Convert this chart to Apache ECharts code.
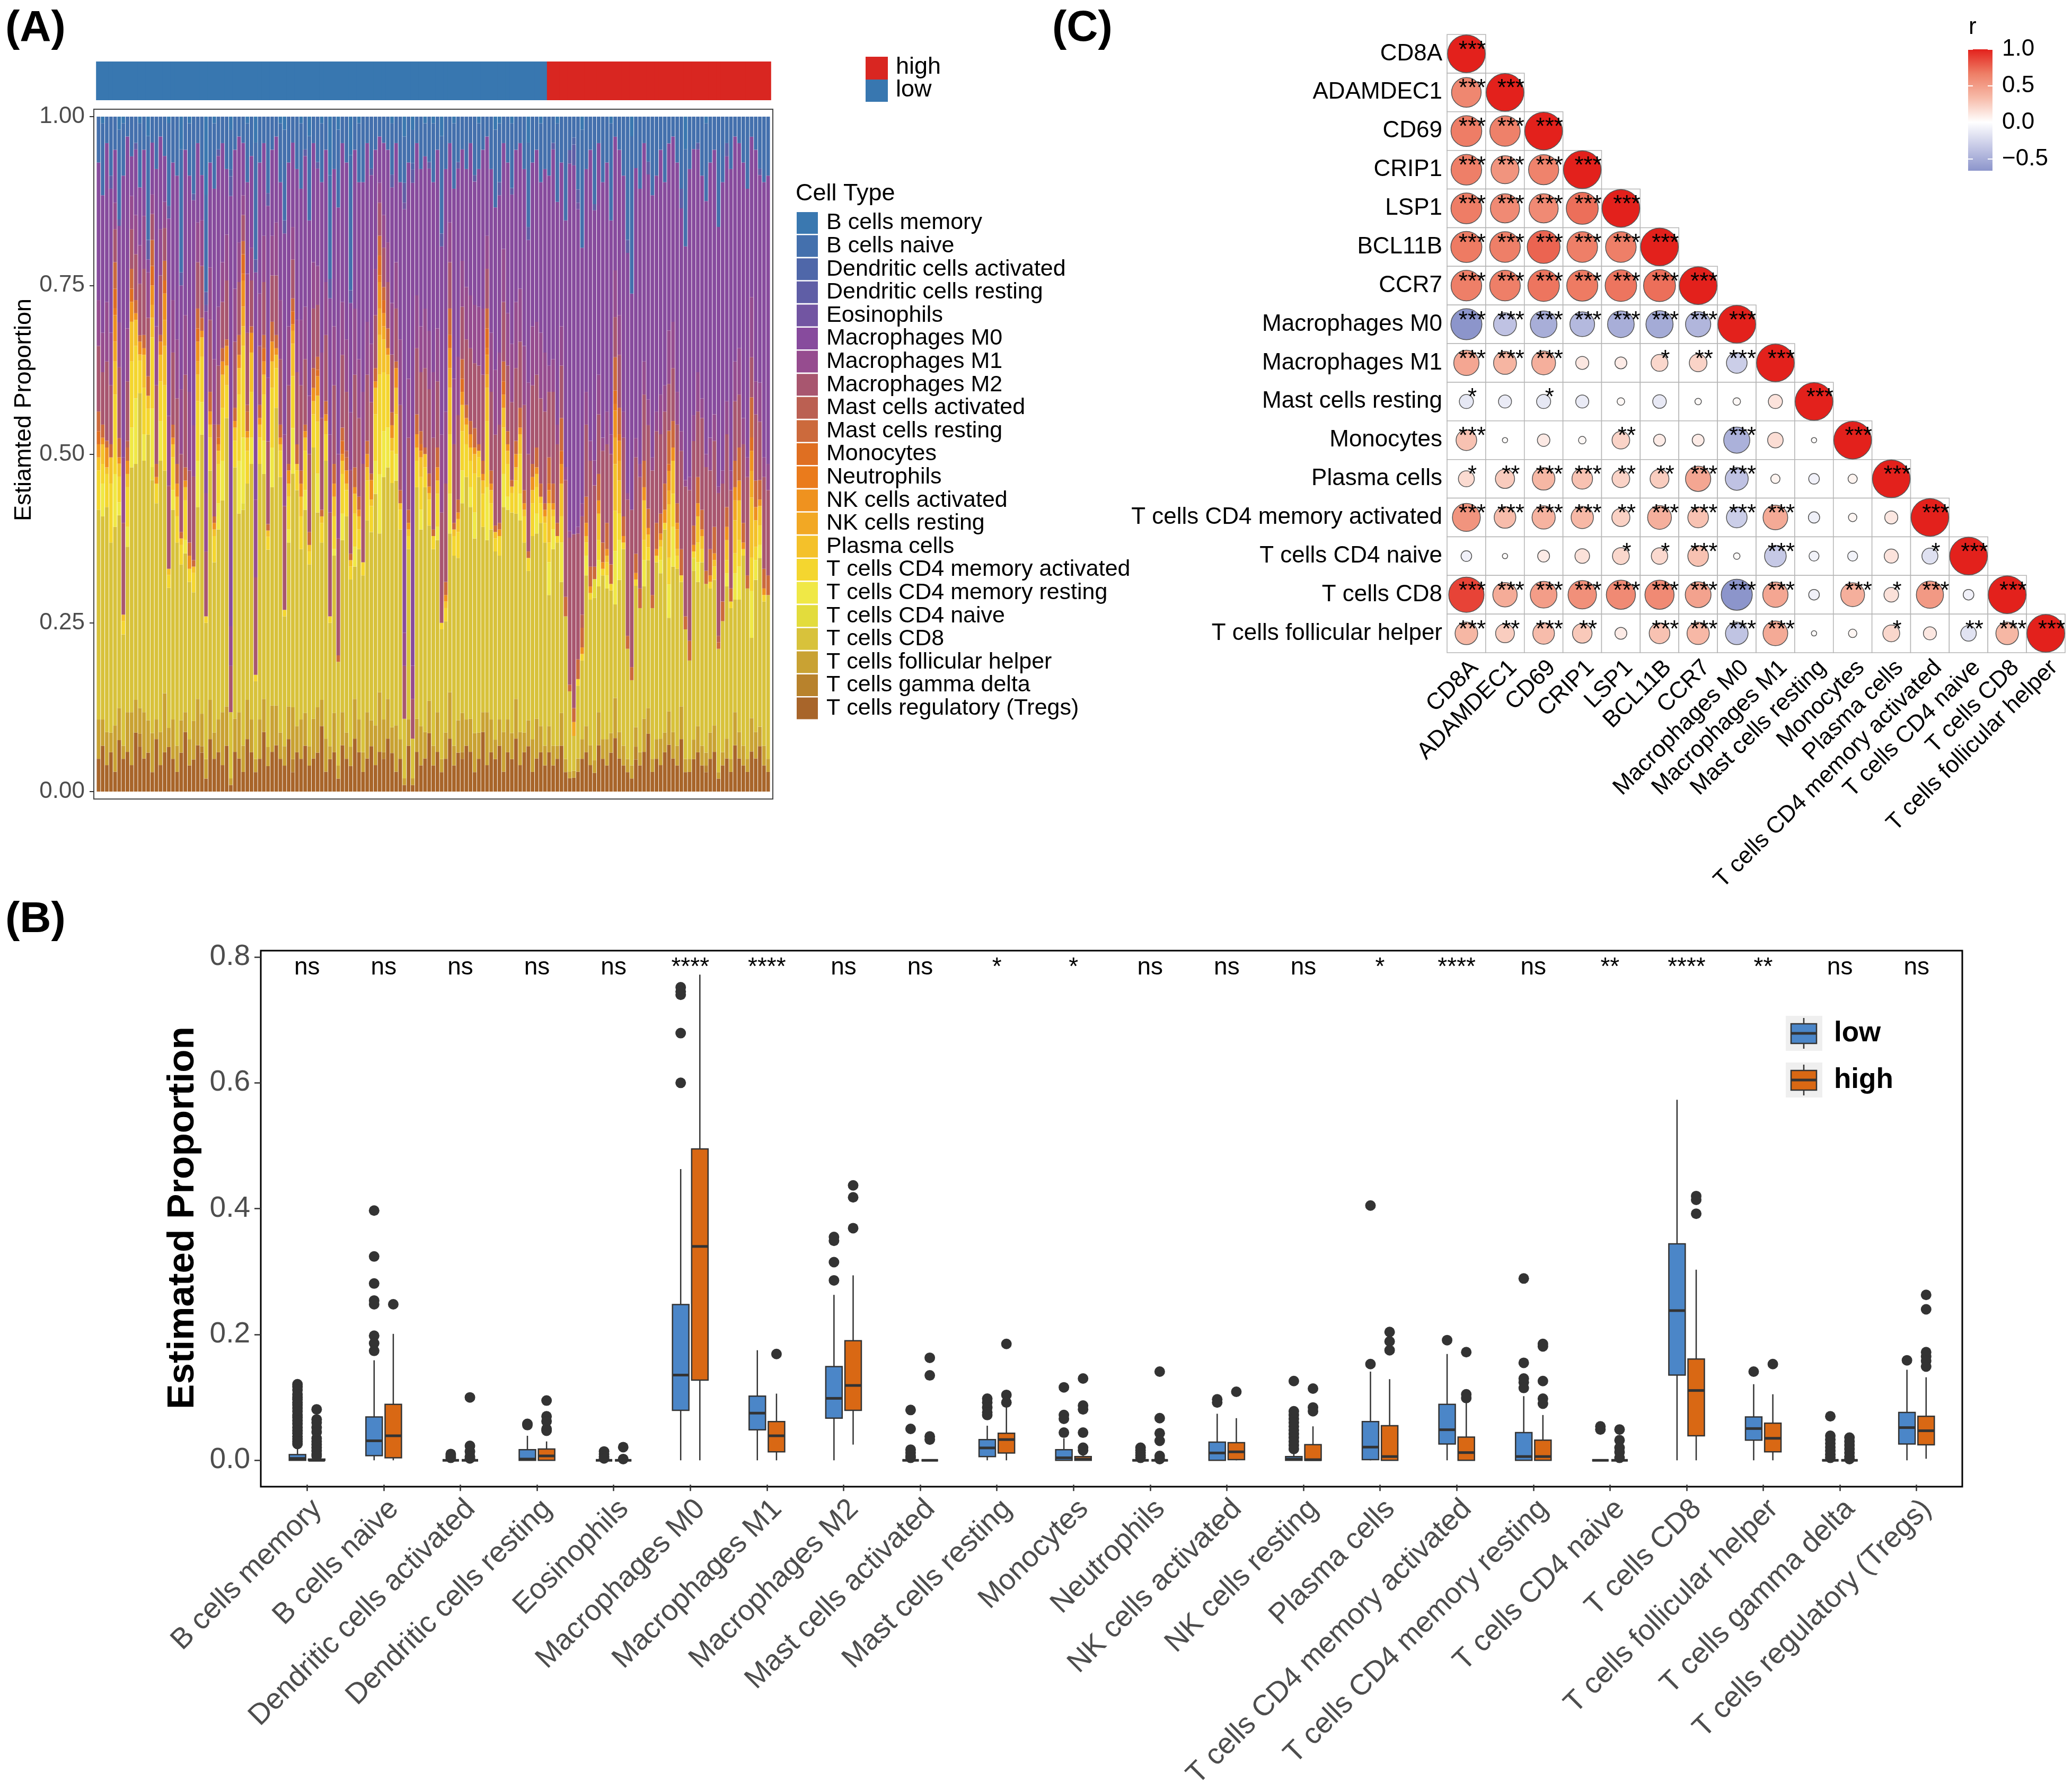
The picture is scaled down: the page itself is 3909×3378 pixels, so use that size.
<!DOCTYPE html>
<html><head><meta charset="utf-8">
<script src="https://cdn.jsdelivr.net/npm/echarts@6/dist/echarts.min.js"></script>
<style>html,body{margin:0;padding:0;background:#fff}#c{width:3909px;height:3378px}</style>
</head><body><div id="c"></div>
<script>
const FF = '"Liberation Sans", Arial, Helvetica, sans-serif';
const nums = s => s.trim().split(/\s+/).map(Number);

// ---------------- Panel A data (percent per sample; low group first, then high) ----------------
const lowCount = 109, highCount = 54;
const N = lowCount + highCount;
const full = s => { const a = nums(s); while (a.length < N) a.push(0); return a.slice(0, N); };
const sparse = o => { const a = new Array(N).fill(0); for (const k in o) a[+k] = o[k]; return a; };

const tregs = full(`5 7 4 6 3 8 5 6 4 9 7 5 6 3 8 4 6 7 5 3 6 9 4 5 7 6 2 8 5 6 4 7 1 6 5 3 8 6 3 5 9 4 6 7 5 4 8 3 6 5 7 4 5 6 10 3 5 6 2 7 5 4 8 6 3 5 7 4 6 5 8 6 3 5 1 7 1 6 4 5 9 4 6 3 5 8 4 6 5 7 6 3 5 9 4 6 5 7 3 6 5 8 4 6 7 3 5 6 4
 6 4 5 7 3 2 2 3 5 6 4 3 7 5 4 6 8 5 4 3 2 5 4 6 9 3 5 4 6 7 5 4 8 3 3 5 6 4 3 5 6 2 4 5 3 7 5 4 3 6 5 7 4 3`);
const tfh = full(`6 4 5 3 7 5 2 6 8 5 4 7 5 6 3 5 9 3 6 4 5 3 4 6 7 5 3 6 4 5 8 6 1 5 7 4 6 5 2 6 5 3 7 6 4 3 5 8 4 6 5 3 6 7 4 5 2 6 2 5 4 3 6 5 3 7 4 6 9 5 6 4 7 3 1 4 1 5 6 4 5 3 6 2 4 7 3 5 6 4 5 6 4 3 8 5 3 4 6 5 4 6 5 3 4 5 6 4 3
 4 3 2 5 2 1 1 2 3 4 3 2 5 3 4 3 6 4 3 2 2 3 2 5 4 2 3 4 3 5 4 3 5 2 2 3 4 3 2 4 4 1 2 3 2 5 4 3 2 5 4 3 3 2`);
const cd8 = full(`32 31 34 29 30 30 17 25 37 36 49 38 44 39 33 41 34 22 32 31 24 24 24 20 29 43 21 35 26 29 32 44 10 38 30 36 33 39 12 39 34 31 33 45 39 20 25 36 36 26 31 28 41 30 24 42 19 24 16 26 33 26 20 26 27 29 29 35 24 37 35 38 37 32 9 26 6 35 30 37 27 30 26 20 17 24 29 25 32 37 32 30 39 28 26 29 29 25 34 32 34 28 32 29 23 31 28 31 31
 20 30 31 20 22 12 5 11 12 23 22 26 19 25 23 22 14 23 30 17 13 22 22 20 23 23 27 25 31 14 25 27 19 20 15 26 22 28 26 22 22 19 20 23 23 17 20 29 26 12 23 26 22 25`);
const cd4Act = full(`6 3 5 9 12 4 2 6 10 8 5 7 4 11 3 6 13 2 5 4 3 6 2 3 9 7 1 5 4 6 8 5 0 4 10 14 5 7 1 4 7 2 9 6 4 1 5 8 3 5 6 2 5 8 3 4 1 5 0 6 4 2 5 3 2 6 4 7 15 9 8 5 6 3 0 2 0 4 5 3 4 2 5 1 2 9 3 4 6 5 4 6 3 5 10 4 2 3 7 5 3 5 6 4 2 5 4 3 3
 3 2 1 4 0 0 0 1 1 2 1 0 3 1 2 1 6 4 1 0 0 1 0 3 2 0 1 2 1 4 5 2 1 0 0 1 3 2 0 1 2 0 0 2 1 3 4 1 0 5 2 3 1 0`);
const cd4Rest = full(`0 5 0 0 8 2 0 3 6 10 0 4 0 9 0 6 0 0 3 0 0 2 0 0 7 5 0 0 0 4 6 0 0 0 8 10 0 4 0 0 5 0 6 0 0 0 2 7 0 0 3 0 0 6 0 0 0 1 0 4 0 0 3 0 0 0 0 5 9 7 6 0 4 0 0 0 0 0 3 0 0 0 2 0 0 6 0 0 5 0 3 4 0 0 8 0 0 0 5 2 0 0 4 0 0 0 3 0 0
 5 3 0 6 0 0 0 0 0 3 0 0 4 0 2 0 8 6 0 0 0 0 0 4 0 0 0 2 0 5 6 0 0 0 0 0 3 0 0 0 0 0 0 2 0 4 5 0 0 7 3 2 0 0`);
const plasma = full(`2 3 1 4 5 2 1 2 6 4 1 5 2 3 0 4 6 1 2 3 1 2 0 1 4 3 0 2 1 2 5 3 0 2 4 3 2 6 0 2 3 1 4 2 1 0 2 5 1 3 2 1 2 4 1 2 0 3 0 2 1 1 3 2 0 2 1 4 6 5 3 2 4 1 0 1 0 2 3 2 1 0 2 0 1 7 1 2 4 3 2 3 1 2 5 2 1 0 3 2 1 2 3 1 0 2 2 1 1
 6 1 0 5 0 0 0 0 0 1 0 0 4 0 1 0 7 5 0 0 0 0 0 6 2 0 0 1 0 8 5 1 0 0 0 0 4 2 0 0 1 0 0 3 0 5 6 0 0 9 4 3 0 0`);
const nkActivated = full(`2 1 3 0 4 1 0 2 3 1 2 1 0 3 1 2 4 0 1 2 0 1 2 0 3 1 0 2 1 1 2 3 0 1 2 4 1 3 0 1 2 0 3 1 1 0 2 1 0 2 1 0 2 3 0 1 0 2 0 1 2 0 1 1 0 2 3 1 4 2 1 2 3 0 0 1 0 2 1 0 1 0 2 0 1 3 0 1 2 1 2 1 0 1 3 1 0 1 2 1 0 2 1 1 0 2 1 0 1
 2 1 0 3 0 0 0 0 1 2 1 0 2 1 1 0 4 3 1 0 0 1 0 2 1 0 1 1 2 3 2 1 0 0 0 1 2 1 0 1 1 0 0 2 0 2 3 1 0 3 2 1 1 0`);
const mastResting = full(`3 2 1 2 4 3 0 2 3 2 1 2 3 4 2 1 3 0 2 3 1 2 2 1 3 2 0 3 1 2 2 1 0 2 3 2 3 1 0 2 2 1 3 2 2 0 1 2 3 2 1 2 3 2 1 2 0 3 1 2 2 1 3 2 0 2 1 2 3 2 3 2 1 2 0 2 0 3 2 1 2 1 3 0 2 4 1 2 3 2 2 3 1 2 3 2 1 1 3 2 1 2 3 2 1 2 3 2 1
 4 3 2 5 3 1 2 3 3 4 3 2 4 3 4 3 5 4 3 2 2 3 3 4 3 2 4 3 4 5 4 3 4 2 3 3 4 3 2 4 4 1 3 3 2 4 5 3 2 6 4 3 3 3`);
const m2 = full(`10 8 12 9 5 11 14 9 6 7 8 10 9 4 12 9 5 13 11 10 12 14 11 13 7 8 10 11 14 9 7 9 7 10 8 4 11 7 15 9 8 13 7 9 10 16 12 6 11 13 10 12 9 8 14 10 16 12 18 11 9 13 14 12 15 10 11 8 5 6 7 9 8 13 8 11 6 10 9 12 13 14 10 17 15 7 12 13 8 10 11 10 12 13 6 12 14 15 9 10 12 11 10 13 15 12 11 13 14
 10 14 12 8 18 22 25 19 15 11 16 13 9 14 12 17 6 8 12 21 24 15 17 10 13 19 14 12 11 7 8 12 15 20 23 13 10 14 16 12 13 22 18 11 15 9 8 12 15 6 10 9 14 13`);
const m1 = full(`7 6 9 8 4 7 10 8 5 6 6 8 7 3 9 7 4 11 8 9 10 9 12 8 6 7 9 8 10 9 6 7 6 8 6 3 9 5 12 8 7 10 6 8 9 11 9 5 8 10 8 9 7 6 10 8 12 9 13 8 8 9 10 9 11 8 9 7 3 5 6 8 7 10 5 9 5 8 7 9 9 10 8 12 11 6 10 9 7 8 8 9 9 10 5 9 10 11 8 8 9 10 8 9 11 9 8 10 9
 4 5 3 6 2 1 0 1 2 5 3 4 6 2 5 3 7 6 4 1 0 3 2 5 4 2 3 6 4 8 7 5 3 1 2 4 6 3 2 5 4 1 2 5 3 6 7 4 3 9 5 6 3 4`);
const m0 = full(`21 21 24 22 8 15 43 29 6 10 9 10 2 8 24 14 7 31 21 25 16 25 33 35 12 7 28 16 26 23 18 10 65 21 16 8 14 14 35 20 14 27 13 13 18 31 25 13 23 20 23 27 18 15 26 20 21 24 38 24 27 17 24 27 32 27 26 18 7 11 14 18 18 24 64 33 73 23 24 23 25 29 27 29 37 12 29 29 17 18 23 19 21 24 15 25 25 24 16 23 23 23 22 27 22 25 26 23 28
 29 32 34 25 38 55 53 48 39 34 44 40 35 39 38 33 20 25 36 37 33 42 42 33 35 40 36 37 31 28 28 35 34 36 47 41 34 34 39 42 40 40 44 37 46 34 31 39 41 24 35 32 42 44`);
const bNaive = full(`7 11 4 9 5 14 8 3 6 4 10 5 16 4 8 3 6 13 7 9 19 5 8 12 4 9 15 7 10 5 4 8 6 5 3 4 9 6 18 7 4 12 5 3 9 14 7 4 8 10 5 13 4 7 9 5 16 8 12 4 7 21 5 9 10 4 8 5 3 4 5 8 4 10 7 7 5 4 8 5 7 9 5 15 8 4 10 7 5 8 4 9 7 5 3 8 12 9 4 7 10 5 4 8 13 7 5 9 8
 9 4 12 7 16 5 3 11 18 8 5 14 4 10 7 15 3 5 9 19 24 8 11 4 7 12 9 5 10 4 3 7 11 15 8 5 4 9 12 7 5 17 10 4 8 3 4 7 11 3 5 8 10 9`);
const bMemory = full(`0 1 0 0 0 2 1 0 0 0 1 0 3 0 0 0 0 1 0 0 5 0 1 0 0 0 12 0 1 0 0 0 2 0 0 0 1 0 4 0 0 0 0 0 1 2 0 0 0 1 0 3 0 0 1 0 9 0 2 0 0 6 0 1 0 0 0 0 0 0 0 1 0 0 3 0 2 0 0 1 0 1 0 3 0 0 1 0 0 0 0 0 1 0 0 0 2 1 0 0 1 0 0 0 4 0 0 1 0
 0 0 1 0 0 0 0 0 2 0 0 0 0 0 0 1 0 0 0 0 3 0 0 0 0 0 0 0 0 0 0 0 0 5 0 0 0 0 1 0 0 0 0 0 0 0 0 0 0 0 0 0 0 0`);
const dcResting = sparse({3:2,5:1,9:1,12:3,17:2,20:2,23:1,26:2,29:1,32:3,38:2,41:2,45:2,50:1,53:1,56:3,61:2,66:1,71:2,74:3,76:2,80:1,83:2,87:1,91:1,97:2,100:1,104:2,110:1,114:2,115:3,116:2,120:1,128:2,133:2,141:3,145:1,152:2,160:1});
const dcActivated = sparse({32:1,76:1,115:1});
const eosinophils = sparse({26:1,74:1,116:1});
const neutrophils = sparse({4:1,35:1,68:1,94:1,125:1});
const monocytes = sparse({0:2,4:3,8:2,13:3,16:2,24:2,29:1,35:3,40:2,47:2,53:1,59:2,68:3,69:2,78:1,85:2,88:2,94:3,98:2,109:1,112:2,125:2,126:1,138:1,158:2});
const mastActivated = sparse({7:1,36:1,60:1,117:2,150:1});
const nkResting = sparse({4:3,13:2,16:4,24:2,35:3,47:2,68:4,69:2,85:3,94:2,115:2,125:4,126:3,138:2,140:3,154:3,158:4});
const gammaDelta = sparse({10:2,25:1,47:2,69:1,88:1,130:2,147:1});
const cd4Naive = sparse({13:2,35:1,120:3,144:2});

const cellTypes = ['B cells memory','B cells naive','Dendritic cells activated','Dendritic cells resting','Eosinophils','Macrophages M0','Macrophages M1','Macrophages M2','Mast cells activated','Mast cells resting','Monocytes','Neutrophils','NK cells activated','NK cells resting','Plasma cells','T cells CD4 memory activated','T cells CD4 memory resting','T cells CD4 naive','T cells CD8','T cells follicular helper','T cells gamma delta','T cells regulatory (Tregs)'];
const cellColors = ['#3a78b0','#4470ad','#4f67a9','#5f5ea6','#7255a2','#874b9d','#964c8f','#a8566f','#bb6052','#cc6a3c','#df6f22','#ea7b1c','#ef921f','#f2a824','#f4c12a','#f4d62f','#f0e846','#e3dc3c','#d8c23b','#c9a233','#b8822c','#a8652a'];
const cellValues = [bMemory,bNaive,dcActivated,dcResting,eosinophils,m0,m1,m2,mastActivated,mastResting,monocytes,neutrophils,nkActivated,nkResting,plasma,cd4Act,cd4Rest,cd4Naive,cd8,tfh,gammaDelta,tregs];

const sampleIds = Array.from({length:N}, (_, i) => 'S' + (i + 1));
const sampleGroup = sampleIds.map((_, i) => i < lowCount ? 'low' : 'high');
const groupColors = { low: '#3877b0', high: '#d92621' };

// ---------------- Panel B data ----------------
const boxLow = [
 [0,0,0.003,0.009,0.022],[0,0.0074,0.031,0.069,0.159],[0,0,0,0,0],[0,0,0.002,0.017,0.039],[0,0,0,0,0.002],
 [0,0.0794,0.1355,0.2475,0.463],[0,0.0486,0.075,0.102,0.175],[0,0.067,0.0985,0.149,0.263],[0,0,0,0,0],[0,0.006,0.0197,0.033,0.055],
 [0,0,0.004,0.017,0.035],[0,0,0,0,0],[0,0,0.0117,0.029,0.074],[0,0,0.002,0.006,0.014],[0,0.0012,0.021,0.0616,0.141],
 [0,0.026,0.0486,0.089,0.169],[0,0,0.006,0.044,0.102],[0,0,0,0,0],[0,0.1355,0.238,0.344,0.573],[0,0.032,0.0505,0.069,0.121],
 [0,0,0,0,0],[0,0.026,0.052,0.076,0.144]];
const boxHigh = [
 [0,0,0,0.002,0.005],[0,0.004,0.039,0.089,0.201],[0,0,0,0,0],[0,0,0.007,0.018,0.03],[0,0,0,0,0],
 [0,0.1275,0.34,0.495,0.772],[0,0.0135,0.039,0.0616,0.106],[0.025,0.0794,0.119,0.19,0.294],[0,0,0,0,0],[0,0.0117,0.033,0.043,0.0905],
 [0,0,0.002,0.006,0.009],[0,0,0,0,0],[0,0.001,0.0135,0.028,0.067],[0,0,0.001,0.025,0.054],[0,0,0.006,0.055,0.129],
 [0,0,0.0123,0.037,0.098],[0,0,0.006,0.032,0.072],[0,0,0,0,0],[0,0.039,0.111,0.161,0.303],[0,0.0135,0.035,0.059,0.105],
 [0,0,0,0,0],[0.0025,0.0246,0.047,0.07,0.132]];
const outLow = [
 [0.121,0.117,0.112,0.105,0.1,0.097,0.092,0.088,0.083,0.078,0.072,0.068,0.063,0.058,0.052,0.047,0.043,0.038,0.034,0.03,0.026],
 [0.397,0.324,0.281,0.254,0.248,0.198,0.186,0.174],[0.01,0.007,0.004],[0.058,0.056],[0.014,0.01,0.006,0.003],
 [0.752,0.745,0.74,0.679,0.6],[],[0.355,0.349,0.315,0.286],[0.08,0.05,0.017,0.012,0.007,0.004],[0.098,0.092,0.084,0.076,0.072],
 [0.116,0.072,0.066,0.044],[0.02,0.016,0.012,0.008,0.004],[0.097,0.092],
 [0.126,0.078,0.072,0.066,0.06,0.054,0.048,0.042,0.036,0.03,0.024,0.018],[0.405,0.153],
 [0.191],[0.289,0.155,0.13,0.124,0.115],[0.054,0.049],[],[0.141],
 [0.07,0.039,0.033,0.027,0.021,0.015,0.009,0.004],[0.159]];
const outHigh = [
 [0.081,0.065,0.06,0.052,0.045,0.035,0.03,0.025,0.02,0.015,0.01,0.007],[0.248],[0.1,0.023,0.014,0.006,0.003],[0.095,0.07,0.062,0.05,0.047],[0.021,0.002],
 [],[0.169],[0.437,0.418,0.369],[0.163,0.135,0.038,0.033],[0.185,0.104,0.092],
 [0.13,0.087,0.081,0.044,0.02,0.016],[0.141,0.067,0.043,0.031,0.007,0.002],[0.109],[0.114,0.084,0.078],[0.204,0.189,0.175],
 [0.172,0.105,0.099],[0.185,0.181,0.126,0.098,0.09],[0.049,0.032,0.02,0.013,0.004],[0.42,0.414,0.392],[0.153],
 [0.036,0.03,0.024,0.018,0.012,0.006,0.002],[0.263,0.24,0.172,0.165,0.158,0.149]];
const sigLabels = ['ns','ns','ns','ns','ns','****','****','ns','ns','*','*','ns','ns','ns','*','****','ns','**','****','**','ns','ns'];

// ---------------- Panel C data ----------------
const corrLabels = ['CD8A','ADAMDEC1','CD69','CRIP1','LSP1','BCL11B','CCR7','Macrophages M0','Macrophages M1','Mast cells resting','Monocytes','Plasma cells','T cells CD4 memory activated','T cells CD4 naive','T cells CD8','T cells follicular helper'];
const corrR = [
 [1],
 [0.62,1],
 [0.67,0.65,1],
 [0.66,0.55,0.64,1],
 [0.67,0.60,0.60,0.72,1],
 [0.68,0.66,0.76,0.66,0.66,1],
 [0.66,0.66,0.70,0.68,0.70,0.72,1],
 [-0.68,-0.37,-0.50,-0.43,-0.50,-0.52,-0.45,1],
 [0.45,0.37,0.40,0.12,0.10,0.20,0.22,-0.30,1],
 [-0.14,-0.12,-0.14,-0.12,0.04,-0.13,0.03,0.04,0.14,1],
 [0.30,0.02,0.11,0.04,0.22,0.10,0.10,-0.48,0.17,0.02,1],
 [0.18,0.26,0.36,0.30,0.22,0.25,0.45,-0.37,0.06,-0.08,0.06,1],
 [0.55,0.33,0.38,0.35,0.23,0.40,0.30,-0.30,0.43,-0.09,0.05,0.12,1],
 [-0.08,0.02,0.10,0.15,0.20,0.19,0.30,0.03,-0.33,-0.07,-0.07,0.14,-0.18,1],
 [0.88,0.42,0.50,0.57,0.60,0.60,0.47,-0.68,0.45,-0.08,0.40,0.15,0.52,-0.08,1],
 [0.36,0.25,0.33,0.27,0.10,0.30,0.35,-0.36,0.43,0.02,0.05,0.20,0.12,-0.17,0.36,1]];
const corrStars = [
 ['***'],
 ['***','***'],
 ['***','***','***'],
 ['***','***','***','***'],
 ['***','***','***','***','***'],
 ['***','***','***','***','***','***'],
 ['***','***','***','***','***','***','***'],
 ['***','***','***','***','***','***','***','***'],
 ['***','***','***','','','*','**','***','***'],
 ['*','','*','','','','','','','***'],
 ['***','','','','**','','','***','','','***'],
 ['*','**','***','***','**','**','***','***','','','','***'],
 ['***','***','***','***','**','***','***','***','***','','','','***'],
 ['','','','','*','*','***','','***','','','','*','***'],
 ['***','***','***','***','***','***','***','***','***','','***','*','***','','***'],
 ['***','**','***','**','','***','***','***','***','','','*','','**','***','***']];
const rTicks = [1.0, 0.5, 0.0, -0.5];
const rMin = -0.66, rMax = 1;
const rColors = ['#8c95cb','#c6c9e6','#ffffff','#f7bba9','#ee7e66','#e3211c'];

// ---------------- build ----------------
const totals = sampleIds.map((_, i) => cellValues.reduce((s, arr) => s + arr[i], 0));
const barSeries = [];
for (let k = cellTypes.length - 1; k >= 0; k--) {
  barSeries.push({
    name: cellTypes[k], type: 'bar', stack: 'cells', xAxisIndex: 0, yAxisIndex: 0,
    barCategoryGap: '12%', itemStyle: { color: cellColors[k] }, emphasis: { disabled: true },
    data: cellValues[k].map((v, i) => v / totals[i])
  });
}
const groupSeries = {
  type: 'custom', xAxisIndex: 1, yAxisIndex: 1, silent: true,
  data: sampleGroup.map((g, i) => [i, 1]),
  renderItem: function (params, api) {
    const top = api.coord([api.value(0), 1]);
    const bottom = api.coord([api.value(0), 0]);
    const w = api.size([1, 0])[0];
    return { type: 'rect', shape: { x: top[0] - w / 2 - 0.8, y: top[1], width: w + 1.6, height: bottom[1] - top[1] },
      style: { fill: groupColors[sampleGroup[params.dataIndex]] } };
  }
};

const DODGE = 0.125, BOX_W = 0.214;
function boxRender(offset, fill) {
  return function (params, api) {
    const c = api.value(0) + offset;
    const hw = api.size([BOX_W, 0])[0] / 2;
    const p = [1, 2, 3, 4, 5].map(d => api.coord([c, api.value(d)]));
    const ls = { stroke: '#333', lineWidth: 2.5 };
    return { type: 'group', children: [
      { type: 'line', shape: { x1: p[0][0], y1: p[0][1], x2: p[1][0], y2: p[1][1] }, style: ls },
      { type: 'line', shape: { x1: p[3][0], y1: p[3][1], x2: p[4][0], y2: p[4][1] }, style: ls },
      { type: 'rect', shape: { x: p[1][0] - hw, y: p[3][1], width: 2 * hw, height: p[1][1] - p[3][1] }, style: { fill: fill, stroke: '#333', lineWidth: 2.5 } },
      { type: 'line', shape: { x1: p[2][0] - hw, y1: p[2][1], x2: p[2][0] + hw, y2: p[2][1] }, style: { stroke: '#333', lineWidth: 5 } }
    ]};
  };
}
const boxSeries = [
  { type: 'custom', xAxisIndex: 3, yAxisIndex: 2, renderItem: boxRender(-DODGE, '#4b86c8'), encode: { x: 0, y: [1,2,3,4,5] }, data: boxLow.map((b, i) => [i].concat(b)), silent: true },
  { type: 'custom', xAxisIndex: 3, yAxisIndex: 2, renderItem: boxRender(DODGE, '#d96814'), encode: { x: 0, y: [1,2,3,4,5] }, data: boxHigh.map((b, i) => [i].concat(b)), silent: true }
];
const outlierSeries = [
  { type: 'scatter', xAxisIndex: 3, yAxisIndex: 2, symbolSize: 20, clip: false, itemStyle: { color: '#333', opacity: 1 }, silent: true,
    data: outLow.flatMap((arr, i) => arr.map(v => [i - DODGE, v])) },
  { type: 'scatter', xAxisIndex: 3, yAxisIndex: 2, symbolSize: 20, clip: false, itemStyle: { color: '#333', opacity: 1 }, silent: true,
    data: outHigh.flatMap((arr, i) => arr.map(v => [i + DODGE, v])) }
];
const SIG_Y = 0.783;
const sigSeries = {
  type: 'custom', xAxisIndex: 3, yAxisIndex: 2, silent: true, data: sigLabels.map((s, i) => [i]), encode: { x: 0 }, z: 10,
  renderItem: function (params, api) {
    const pt = api.coord([api.value(0), SIG_Y]);
    return { type: 'text', x: pt[0], y: pt[1], style: { text: sigLabels[params.dataIndex], fill: '#000', fontSize: 46, fontFamily: FF, align: 'center', verticalAlign: 'middle', textAlign: 'center', textVerticalAlign: 'middle' } };
  }
};

const cellData = [], circleData = [], starData = [], starText = [];
corrR.forEach((row, r) => row.forEach((v, c) => {
  cellData.push([c, r]);
  circleData.push([c, r, v]);
  if (corrStars[r][c]) { starData.push([c, r]); starText.push(corrStars[r][c]); }
}));
const corrCellSeries = {
  type: 'custom', xAxisIndex: 4, yAxisIndex: 3, silent: true, data: cellData, z: 1,
  renderItem: function (params, api) {
    const pt = api.coord([api.value(0), api.value(1)]);
    const sz = api.size([1, 1]);
    return { type: 'rect', shape: { x: pt[0] - sz[0] / 2, y: pt[1] - sz[1] / 2, width: sz[0], height: sz[1] }, style: { fill: '#fff', stroke: '#b5b5b5', lineWidth: 1.5 } };
  }
};
const corrCircleSeries = {
  type: 'scatter', xAxisIndex: 4, yAxisIndex: 3, silent: true, data: circleData, z: 3,
  symbolSize: v => 71 * Math.sqrt(Math.abs(v[2])),
  itemStyle: { borderColor: '#555', borderWidth: 1.5, opacity: 1 }
};
const corrStarSeries = {
  type: 'custom', xAxisIndex: 4, yAxisIndex: 3, silent: true, data: starData, z: 20,
  renderItem: function (params, api) {
    const pt = api.coord([api.value(0), api.value(1)]);
    return { type: 'text', x: pt[0] + 11, y: pt[1] - 6, z2: 100, style: { text: starText[params.dataIndex], fill: '#000', fontSize: 44, fontFamily: FF, align: 'center', verticalAlign: 'middle', textAlign: 'center', textVerticalAlign: 'middle' } };
  }
};

// graphics
function txt(text, x, y, o) {
  o = o || {};
  return { type: 'text', x: x, y: y, rotation: o.rotation || 0, z: 100,
    style: { text: text, fill: o.fill || '#000', fontSize: o.size || 44, fontWeight: o.weight || 'normal', fontFamily: FF,
      align: o.align || 'left', textAlign: o.align || 'left', verticalAlign: 'middle', textVerticalAlign: 'middle' } };
}
const CB = { x: 3713, y: 93, w: 46, h: 229 };
const rToY = v => CB.y + (rMax - v) / (rMax - rMin) * CB.h;
const graphics = [
  txt('(A)', 10, 54, { size: 82, weight: 'bold' }),
  txt('(B)', 10, 1735, { size: 82, weight: 'bold' }),
  txt('(C)', 1985, 54, { size: 82, weight: 'bold' }),
  { type: 'rect', shape: { x: 177, y: 206, width: 1281, height: 1301 }, style: { fill: 'none', stroke: '#444', lineWidth: 2 } },
  txt('Estiamted Proportion', 46, 773, { size: 45, rotation: Math.PI / 2, align: 'center' }),
  { type: 'rect', shape: { x: 1633, y: 107, width: 42, height: 43 }, style: { fill: groupColors.high } },
  { type: 'rect', shape: { x: 1633, y: 150, width: 42, height: 42 }, style: { fill: groupColors.low } },
  txt('high', 1690, 127, { size: 45 }),
  txt('low', 1690, 170, { size: 45 }),
  txt('Cell Type', 1501, 366, { size: 45 }),
  { type: 'rect', shape: { x: 492, y: 1793, width: 3210, height: 1011 }, style: { fill: 'none', stroke: '#000', lineWidth: 3 } },
  txt('Estimated Proportion', 345, 2297, { size: 71, weight: 'bold', rotation: Math.PI / 2, align: 'center' }),
  { type: 'rect', shape: { x: 3369, y: 1916, width: 69, height: 66 }, style: { fill: '#efefef' } },
  { type: 'line', shape: { x1: 3403, y1: 1920, x2: 3403, y2: 1978 }, style: { stroke: '#333', lineWidth: 2.5 } },
  { type: 'rect', shape: { x: 3379, y: 1931, width: 48, height: 37 }, style: { fill: '#4b86c8', stroke: '#333', lineWidth: 2.5 } },
  { type: 'line', shape: { x1: 3379, y1: 1949, x2: 3427, y2: 1949 }, style: { stroke: '#333', lineWidth: 5 } },
  { type: 'rect', shape: { x: 3369, y: 2004, width: 69, height: 66 }, style: { fill: '#efefef' } },
  { type: 'line', shape: { x1: 3403, y1: 2008, x2: 3403, y2: 2066 }, style: { stroke: '#333', lineWidth: 2.5 } },
  { type: 'rect', shape: { x: 3379, y: 2019, width: 48, height: 37 }, style: { fill: '#d96814', stroke: '#333', lineWidth: 2.5 } },
  { type: 'line', shape: { x1: 3379, y1: 2037, x2: 3427, y2: 2037 }, style: { stroke: '#333', lineWidth: 5 } },
  txt('low', 3460, 1949, { size: 53, weight: 'bold' }),
  txt('high', 3460, 2037, { size: 53, weight: 'bold' }),
  { type: 'rect', shape: { x: CB.x, y: CB.y, width: CB.w, height: CB.h },
    style: { fill: { type: 'linear', x: 0, y: 0, x2: 0, y2: 1, colorStops: rColors.slice().reverse().map((c, i) => ({ offset: i / (rColors.length - 1), color: c })) } } },
  txt('r', 3714, 52, { size: 44 })
];
rTicks.forEach(v => {
  const y = rToY(v);
  graphics.push({ type: 'line', shape: { x1: CB.x, y1: y, x2: CB.x + 9, y2: y }, style: { stroke: '#fff', lineWidth: 2 }, z: 101 });
  graphics.push({ type: 'line', shape: { x1: CB.x + CB.w - 9, y1: y, x2: CB.x + CB.w, y2: y }, style: { stroke: '#fff', lineWidth: 2 }, z: 101 });
  graphics.push(txt((v < 0 ? '\u2212' : '') + Math.abs(v).toFixed(1), 3777, y, { size: 44 }));
});

const option = {
  animation: false,
  backgroundColor: '#fff',
  textStyle: { fontFamily: FF },
  grid: [
    { left: 182, top: 220, width: 1271, height: 1273 },
    { left: 182, top: 116, width: 1272, height: 73 },
    { left: 507, top: 1805, width: 3181, height: 953 },
    { left: 2730, top: 65, width: 1166, height: 1166 }
  ],
  xAxis: [
    { gridIndex: 0, type: 'category', data: sampleIds, show: false },
    { gridIndex: 1, type: 'category', data: sampleIds, show: false },
    { gridIndex: 2, type: 'category', data: cellTypes, offset: 46,
      axisLine: { show: false, onZero: false },
      axisTick: { show: true, alignWithLabel: true, length: 12, interval: 0, lineStyle: { color: '#333', width: 2.5 } },
      axisLabel: { interval: 0, rotate: 45, align: 'right', verticalAlign: 'top', margin: 18, color: '#4d4d4d', fontSize: 55, fontFamily: FF },
      splitLine: { show: false } },
    { gridIndex: 2, type: 'value', min: -0.5, max: 21.5, show: false, axisLine: { onZero: false } },
    { gridIndex: 3, type: 'category', data: corrLabels,
      axisLine: { show: false, onZero: false }, axisTick: { show: false }, splitLine: { show: false },
      axisLabel: { interval: 0, rotate: 45, align: 'right', verticalAlign: 'top', margin: 6, color: '#000', fontSize: 44, fontFamily: FF } }
  ],
  yAxis: [
    { gridIndex: 0, type: 'value', min: 0, max: 1, interval: 0.25, offset: 5,
      axisLine: { show: false, onZero: false }, splitLine: { show: false },
      axisTick: { show: true, length: 8, lineStyle: { color: '#333', width: 2 } },
      axisLabel: { formatter: v => v.toFixed(2), color: '#4d4d4d', fontSize: 44, margin: 17, fontFamily: FF } },
    { gridIndex: 1, type: 'value', min: 0, max: 1, show: false, axisLine: { onZero: false } },
    { gridIndex: 2, type: 'value', min: 0, max: 0.8, interval: 0.2, offset: 15,
      axisLine: { show: false, onZero: false }, splitLine: { show: false },
      axisTick: { show: true, length: 12, lineStyle: { color: '#333', width: 2.5 } },
      axisLabel: { formatter: v => v.toFixed(1), color: '#4d4d4d', fontSize: 55, margin: 20, fontFamily: FF } },
    { gridIndex: 3, type: 'category', data: corrLabels, inverse: true,
      axisLine: { show: false, onZero: false }, axisTick: { show: false }, splitLine: { show: false },
      axisLabel: { interval: 0, color: '#000', fontSize: 44, margin: 9, fontFamily: FF } }
  ],
  legend: {
    data: cellTypes, orient: 'vertical', left: 1503, top: 399, padding: 0,
    itemWidth: 40, itemHeight: 41, itemGap: 0.6, icon: 'rect', selectedMode: false,
    textStyle: { fontSize: 43, color: '#000', fontFamily: FF, padding: [0, 0, 0, 11] }
  },
  visualMap: {
    type: 'continuous', show: false, min: rMin, max: rMax, dimension: 2,
    seriesIndex: 22 + 1 + 2 + 2 + 1 + 1,
    inRange: { color: rColors }
  },
  graphic: { elements: graphics },
  series: [].concat(barSeries, [groupSeries], boxSeries, outlierSeries, [sigSeries], [corrCellSeries, corrCircleSeries, corrStarSeries])
};

const chart = echarts.init(document.getElementById('c'), null, { renderer: 'canvas' });
chart.setOption(option);
</script>
</body></html>
